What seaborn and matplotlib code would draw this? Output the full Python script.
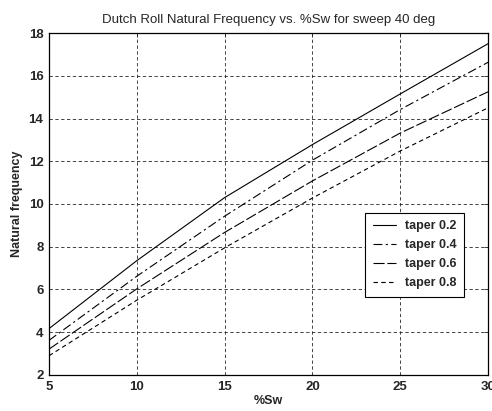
import pandas as pd
import matplotlib
matplotlib.use("Agg")
import matplotlib.pyplot as plt
import seaborn as sns

# values
sw = [5, 10, 15, 20, 25, 30]
taper_02 = [4.17, 7.35, 10.30, 12.78, 15.15, 17.50]
taper_04 = [3.62, 6.62, 9.43, 12.05, 14.42, 16.63]
taper_06 = [3.21, 6.03, 8.67, 11.08, 13.32, 15.25]
taper_08 = [2.90, 5.50, 7.95, 10.28, 12.48, 14.50]
labels = ["taper 0.2", "taper 0.4", "taper 0.6", "taper 0.8"]

rows = []
for lab, vals in zip(labels, [taper_02, taper_04, taper_06, taper_08]):
    for x, y in zip(sw, vals):
        rows.append({"sw": x, "freq": y, "taper": lab})
df = pd.DataFrame(rows)

sns.set_style("white")
plt.rcParams["font.family"] = ["Liberation Sans", "DejaVu Sans"]

fig = plt.figure(figsize=(4.92, 4.11), dpi=100)
ax = fig.add_axes([0.0996, 0.0876, 0.8924, 0.8321])

dash_map = {
    "taper 0.2": "",
    "taper 0.4": (8, 3, 2, 3),
    "taper 0.6": (10, 2.5),
    "taper 0.8": (4, 3),
}
sns.lineplot(data=df, x="sw", y="freq", hue="taper", style="taper",
             palette=["black"] * 4, dashes=dash_map, linewidth=0.8, ax=ax)

ax.set_xlim(5, 30)
ax.set_ylim(2, 18)
ax.set_xticks([5, 10, 15, 20, 25, 30])
ax.set_yticks([2, 4, 6, 8, 10, 12, 14, 16, 18])
ax.grid(True, color="0.15", linestyle=(0, (4, 3)), linewidth=0.6)
ax.tick_params(direction="in", length=3, labelsize=9.5, top=True, right=True,
               width=0.6, pad=4)
for t in ax.get_xticklabels() + ax.get_yticklabels():
    t.set_fontweight("bold")
for s in ax.spines.values():
    s.set_color("black")
    s.set_linewidth(0.9)

ax.set_title("Dutch Roll Natural Frequency vs. %Sw for sweep 40 deg", fontsize=9.5, pad=7)
ax.set_xlabel("%Sw", fontsize=9, fontweight="bold", labelpad=2)
ax.set_ylabel("Natural frequency", fontsize=9, fontweight="bold", labelpad=4)

leg = ax.legend(loc="upper left", bbox_to_anchor=(0.72, 0.474), fontsize=9,
                frameon=True, fancybox=False, edgecolor="black", framealpha=1,
                handlelength=1.9, handletextpad=0.7, borderpad=0.6,
                borderaxespad=0.0, labelspacing=0.55)
leg.get_frame().set_linewidth(0.8)
for t in leg.get_texts():
    t.set_fontweight("bold")

fig.savefig("out.png", dpi=100)
